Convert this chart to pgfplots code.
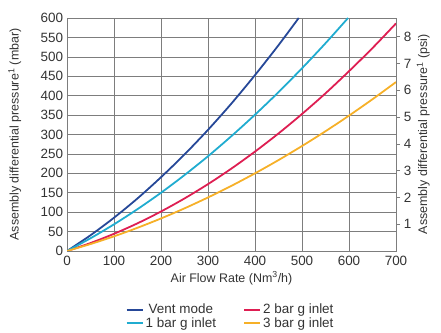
\documentclass[border=0pt]{standalone}
\usepackage{pgfplots}
\pgfplotsset{compat=1.18}
\usepackage{fontspec}
\setmainfont{Liberation Sans}
\definecolor{cvent}{RGB}{38,72,152}
\definecolor{cone}{RGB}{32,172,208}
\definecolor{ctwo}{RGB}{222,30,82}
\definecolor{cthree}{RGB}{246,176,40}
\definecolor{cgrid}{RGB}{125,125,125}
\begin{document}
\fontsize{11}{13}\selectfont
\begin{tikzpicture}
\begin{axis}[
  at={(67bp,82bp)}, anchor=south west,
  scale only axis, width=329bp, height=233bp,
  xmin=0, xmax=700, ymin=0, ymax=600,
  xtick={0,100,...,700}, ytick={0,50,...,600},
  grid=major, major grid style={cgrid, line width=0.6pt},
  axis line style={cgrid, line width=0.6pt},
  major tick length=0pt,
  /pgf/number format/assume math mode=true,
  ticklabel style={font=\fontsize{13.5}{15}\selectfont, text=black!80},
  xticklabel style={yshift=-1bp},
  xlabel={Air Flow Rate (Nm\textsuperscript{3}/h)},
  ylabel={Assembly differential pressure\textsuperscript{1} (mbar)},
  label style={font=\fontsize{12.5}{14}\selectfont, text=black!80},
  xlabel style={yshift=1bp},
  ylabel style={yshift=12bp},
  legend columns=2,
  legend style={at={(0.497,-0.21)}, anchor=north, draw=none, fill=none,
    font=\fontsize{13.5}{15}\selectfont, text=black!80,
    /tikz/every even column/.append style={column sep=25bp},
    row sep=-2bp},
  legend image code/.code={\draw[#1, line width=2.2pt] (0bp,0bp) -- (16bp,0bp);},
  every axis plot/.append style={line width=1.8pt, smooth},
]
\addplot[cvent] coordinates {(0,0) (50,40.5) (100,85.7) (150,135.4) (200,190) (250,248.6) (300,312) (350,380) (400,453) (450,530) (493,600)};
\addlegendentry{Vent mode}
\addplot[ctwo] coordinates {(0,0) (50,20.5) (100,44.3) (150,71.3) (200,101.7) (250,135.3) (300,172.2) (350,212.4) (400,256) (450,302.7) (500,352.8) (550,406) (600,463) (650,522.6) (700,586)};
\addlegendentry{2 bar g inlet}
\addplot[cone] coordinates {(0,0) (50,32.8) (100,68.7) (150,107.8) (200,150) (250,195.5) (300,244) (350,296) (400,351) (450,409) (500,470.5) (550,535) (598,600)};
\addlegendentry{1 bar g inlet}
\addplot[cthree] coordinates {(0,0) (50,17.9) (100,37.8) (150,59.8) (200,83.8) (250,109.8) (300,137.9) (350,167.9) (400,200) (450,234.1) (500,270.3) (550,308.4) (600,348.6) (650,390.8) (700,435)};
\addlegendentry{3 bar g inlet}
\end{axis}
\begin{axis}[
  at={(67bp,82bp)}, anchor=south west,
  scale only axis, width=329bp, height=233bp,
  xmin=0, xmax=700, ymin=0, ymax=8.7023,
  axis x line=none, axis y line*=right,
  ytick={1,2,...,8},
  axis line style={cgrid, line width=0.6pt},
  tick style={cgrid, line width=0.6pt},
  major tick length=4bp, tick align=outside,
  /pgf/number format/assume math mode=true,
  ticklabel style={font=\fontsize{13.5}{15}\selectfont, text=black!80},
  ylabel={Assembly differential pressure\textsuperscript{1} (psi)},
  label style={font=\fontsize{12.5}{14}\selectfont, text=black!80},
  ylabel style={yshift=2bp},
]
\end{axis}
\pgfresetboundingbox
\path (0,0) rectangle (441bp,333bp);
\end{tikzpicture}
\end{document}
